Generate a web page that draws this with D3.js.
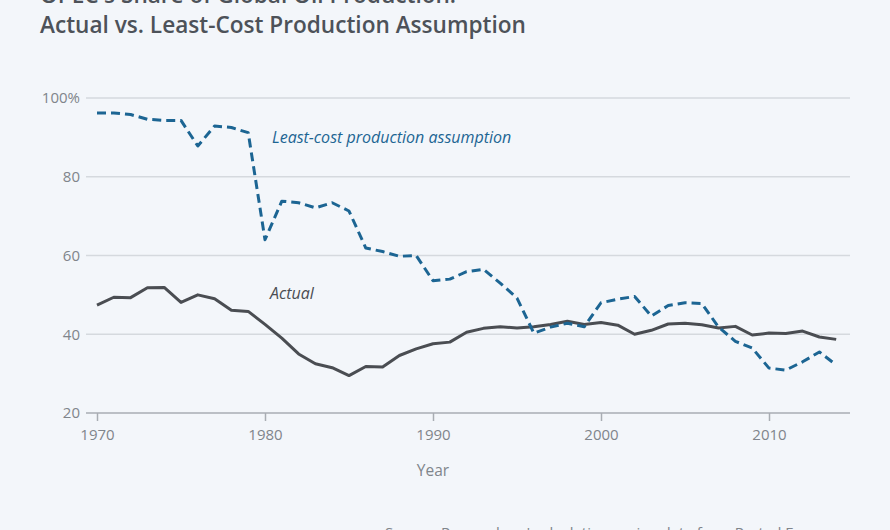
<!DOCTYPE html>
<html><head><meta charset="utf-8">
<script src="https://cdn.jsdelivr.net/npm/d3@7"></script>
<style>
html,body{margin:0;padding:0;background:#f3f6fa;}
svg{display:block;}
</style></head>
<body><svg id="chart" width="890" height="530"></svg>
<script>
const years = d3.range(1970, 2015);
const leastCost = [96.2,96.2,95.8,94.6,94.3,94.3,87.8,92.9,92.5,91.2,64.0,73.8,73.4,72.1,73.4,71.3,61.9,61.0,59.8,60.0,53.6,54.0,55.9,56.5,53.0,49.2,40.3,41.8,42.8,41.9,48.0,48.9,49.6,44.6,47.3,48.0,47.8,41.8,38.2,36.5,31.4,30.9,33.0,35.5,32.2];
const actual = [47.4,49.4,49.3,51.8,51.9,48.1,50.0,49.0,46.1,45.8,42.5,39.0,35.0,32.5,31.5,29.5,31.8,31.7,34.6,36.3,37.6,38.0,40.5,41.5,41.9,41.6,41.9,42.5,43.3,42.5,43.0,42.3,40.0,41.0,42.6,42.8,42.4,41.6,42.0,39.8,40.3,40.2,40.8,39.3,38.7];
const yTicks = [20,40,60,80,100];
const xTicks = [1970,1980,1990,2000,2010];

const svg = d3.select("#chart");
const font = "'Open Sans', 'Noto Sans', sans-serif";
const x = d3.scaleLinear().domain([1970,2010]).range([97,769]);
const y = d3.scaleLinear().domain([20,100]).range([413,98]);

// title
svg.append("text").attr("x",40).attr("y",3).attr("font-family",font).attr("font-weight",600)
  .attr("font-size",22.6).attr("fill","#4d5259").text("OPEC's Share of Global Oil Production:");
svg.append("text").attr("x",40).attr("y",33).attr("font-family",font).attr("font-weight",600)
  .attr("font-size",22.6).attr("fill","#4d5259").text("Actual vs. Least-Cost Production Assumption");

// gridlines
svg.append("g").selectAll("line").data(yTicks.filter(d=>d>20)).join("line")
  .attr("x1",86).attr("x2",850).attr("y1",d=>y(d)).attr("y2",d=>y(d))
  .attr("stroke","#d5d9de").attr("stroke-width",1.5);

// y labels
svg.append("g").selectAll("text").data(yTicks).join("text")
  .attr("x",80).attr("y",d=>y(d)).attr("dy","0.35em").attr("text-anchor","end")
  .attr("font-family",font).attr("font-size",15).attr("fill","#80858b")
  .text(d=>d===100? "100%" : d);

// x axis
const xAxis = d3.axisBottom(x).tickValues(xTicks).tickFormat(d3.format("d")).tickSize(8).tickPadding(8);
const gx = svg.append("g").attr("transform",`translate(0,${y(20)})`).call(xAxis);
gx.select(".domain").remove();
gx.selectAll(".tick line").attr("stroke","#a8adb3").attr("stroke-width",1.5);
gx.selectAll(".tick text").attr("font-family",font).attr("font-size",15).attr("fill","#80858b");
svg.append("line").attr("x1",86).attr("x2",850).attr("y1",y(20)).attr("y2",y(20))
  .attr("stroke","#a8adb3").attr("stroke-width",1.5);

svg.append("text").attr("x",433).attr("y",476).attr("text-anchor","middle")
  .attr("font-family",font).attr("font-size",15.5).attr("fill","#80858b").text("Year");

// lines
const line = d3.line().x((d,i)=>x(years[i])).y(d=>y(d));
svg.append("path").datum(actual).attr("d",line).attr("fill","none")
  .attr("stroke","#4a4d52").attr("stroke-width",3).attr("stroke-linejoin","round");
svg.append("path").datum(leastCost).attr("d",line).attr("fill","none")
  .attr("stroke","#1c6593").attr("stroke-width",3).attr("stroke-dasharray","9,5").attr("stroke-linejoin","round");

// labels
svg.append("text").attr("x",272).attr("y",143).attr("font-family",font).attr("font-style","italic")
  .attr("font-size",16).attr("fill","#1c6593").text("Least-cost production assumption");
svg.append("text").attr("x",270).attr("y",299).attr("font-family",font).attr("font-style","italic")
  .attr("font-size",16).attr("fill","#4a4d52").text("Actual");

// source (cut off at bottom, as in reference)
svg.append("text").attr("x",385).attr("y",538).attr("font-family",font)
  .attr("font-size",15).attr("fill","#80858b").text("Source: Researchers' calculations using data from Rystad Energy.");
</script></body></html>
